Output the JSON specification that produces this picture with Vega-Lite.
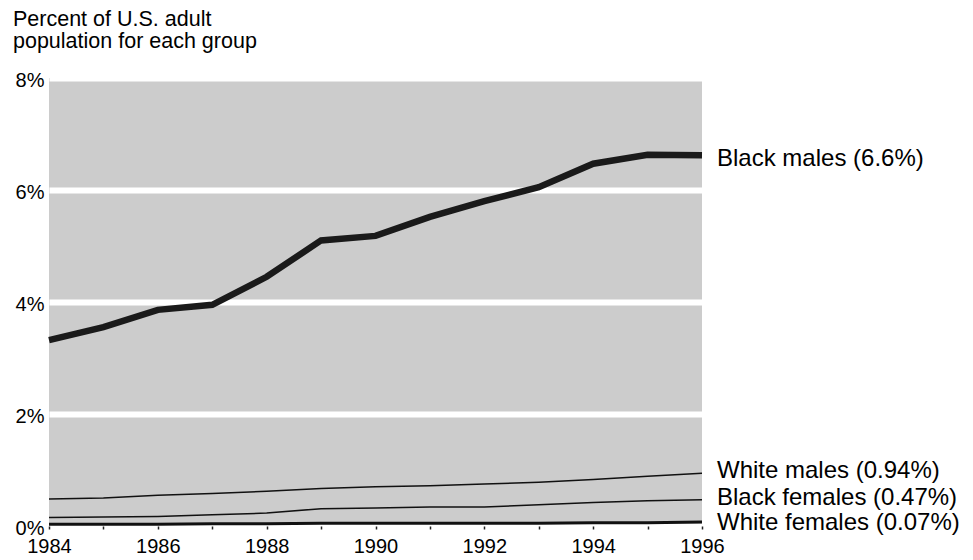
{
  "$schema": "https://vega.github.io/schema/vega-lite/v6.json",
  "autosize": "none",
  "width": 653,
  "height": 448,
  "padding": {"left": 49, "top": 78, "right": 271, "bottom": 34},
  "background": "white",
  "title": {
    "text": ["Percent of U.S. adult", "\u00a0population for each group"],
    "anchor": "start",
    "frame": "group",
    "font": "Liberation Sans",
    "fontSize": 21.5,
    "fontWeight": "normal",
    "color": "black",
    "lineHeight": 22,
    "dx": -36,
    "offset": 18
  },
  "config": {
    "view": {"fill": "#cccccc", "stroke": null},
    "font": "Liberation Sans"
  },
  "data": {
    "values": [
      {"year": 1984, "group": "Black males", "pct": 3.32},
      {"year": 1985, "group": "Black males", "pct": 3.55},
      {"year": 1986, "group": "Black males", "pct": 3.86},
      {"year": 1987, "group": "Black males", "pct": 3.95},
      {"year": 1988, "group": "Black males", "pct": 4.45},
      {"year": 1989, "group": "Black males", "pct": 5.1},
      {"year": 1990, "group": "Black males", "pct": 5.18},
      {"year": 1991, "group": "Black males", "pct": 5.52},
      {"year": 1992, "group": "Black males", "pct": 5.8},
      {"year": 1993, "group": "Black males", "pct": 6.05},
      {"year": 1994, "group": "Black males", "pct": 6.47},
      {"year": 1995, "group": "Black males", "pct": 6.63},
      {"year": 1996, "group": "Black males", "pct": 6.62},
      {"year": 1984, "group": "White males", "pct": 0.48},
      {"year": 1985, "group": "White males", "pct": 0.5},
      {"year": 1986, "group": "White males", "pct": 0.55},
      {"year": 1987, "group": "White males", "pct": 0.58},
      {"year": 1988, "group": "White males", "pct": 0.62},
      {"year": 1989, "group": "White males", "pct": 0.67},
      {"year": 1990, "group": "White males", "pct": 0.7},
      {"year": 1991, "group": "White males", "pct": 0.72},
      {"year": 1992, "group": "White males", "pct": 0.75},
      {"year": 1993, "group": "White males", "pct": 0.78},
      {"year": 1994, "group": "White males", "pct": 0.83},
      {"year": 1995, "group": "White males", "pct": 0.89},
      {"year": 1996, "group": "White males", "pct": 0.94},
      {"year": 1984, "group": "Black females", "pct": 0.15},
      {"year": 1985, "group": "Black females", "pct": 0.16},
      {"year": 1986, "group": "Black females", "pct": 0.17},
      {"year": 1987, "group": "Black females", "pct": 0.2},
      {"year": 1988, "group": "Black females", "pct": 0.23},
      {"year": 1989, "group": "Black females", "pct": 0.31},
      {"year": 1990, "group": "Black females", "pct": 0.32},
      {"year": 1991, "group": "Black females", "pct": 0.34},
      {"year": 1992, "group": "Black females", "pct": 0.34},
      {"year": 1993, "group": "Black females", "pct": 0.38},
      {"year": 1994, "group": "Black females", "pct": 0.42},
      {"year": 1995, "group": "Black females", "pct": 0.45},
      {"year": 1996, "group": "Black females", "pct": 0.47},
      {"year": 1984, "group": "White females", "pct": 0.03},
      {"year": 1985, "group": "White females", "pct": 0.03},
      {"year": 1986, "group": "White females", "pct": 0.03},
      {"year": 1987, "group": "White females", "pct": 0.04},
      {"year": 1988, "group": "White females", "pct": 0.04},
      {"year": 1989, "group": "White females", "pct": 0.05},
      {"year": 1990, "group": "White females", "pct": 0.05},
      {"year": 1991, "group": "White females", "pct": 0.05},
      {"year": 1992, "group": "White females", "pct": 0.05},
      {"year": 1993, "group": "White females", "pct": 0.05},
      {"year": 1994, "group": "White females", "pct": 0.06},
      {"year": 1995, "group": "White females", "pct": 0.06},
      {"year": 1996, "group": "White females", "pct": 0.07}
    ]
  },
  "encoding": {
    "x": {
      "field": "year",
      "type": "quantitative",
      "scale": {"domain": [1984, 1996], "nice": false, "zero": false},
      "axis": {
        "title": null,
        "values": [1984, 1985, 1986, 1987, 1988, 1989, 1990, 1991, 1992, 1993, 1994, 1995, 1996],
        "labelExpr": "datum.value % 2 == 0 ? datum.value : ''",
        "grid": false,
        "domain": false,
        "ticks": true,
        "tickSize": 3,
        "tickColor": "#222222",
        "tickWidth": 1.5,
        "labelFont": "Liberation Sans",
        "labelFontSize": 20,
        "labelColor": "black",
        "labelPadding": 7,
        "labelOverlap": false,
        "labelFlush": false
      }
    },
    "y": {
      "field": "pct",
      "type": "quantitative",
      "scale": {"domain": [0, 8], "nice": false},
      "axis": {
        "title": null,
        "values": [0, 2, 4, 6, 8],
        "labelExpr": "datum.value + '%'",
        "grid": true,
        "gridColor": "white",
        "gridWidth": 6,
        "gridOpacity": 1,
        "domain": false,
        "ticks": false,
        "labelFont": "Liberation Sans",
        "labelFontSize": 20,
        "labelColor": "black",
        "labelPadding": 5,
        "labelBaseline": "middle",
        "labelOffset": 2
      }
    }
  },
  "layer": [
    {
      "mark": {"type": "line", "color": "#111111", "strokeWidth": 1.5},
      "transform": [{"filter": "datum.group == 'White males' || datum.group == 'Black females'"}],
      "encoding": {"detail": {"field": "group"}}
    },
    {
      "mark": {"type": "line", "color": "#111111", "strokeWidth": 3},
      "transform": [{"filter": "datum.group == 'White females'"}],
      "encoding": {}
    },
    {
      "mark": {"type": "line", "color": "#1a1a1a", "strokeWidth": 6.5},
      "transform": [{"filter": "datum.group == 'Black males'"}],
      "encoding": {}
    },
    {
      "mark": {"type": "text", "align": "left", "baseline": "middle", "dx": 15, "dy": 4, "fontSize": 24, "font": "Liberation Sans", "color": "black"},
      "transform": [{"filter": "datum.year == 1996 && datum.group == 'Black males'"}],
      "encoding": {"text": {"value": "Black males (6.6%)"}}
    },
    {
      "mark": {"type": "text", "align": "left", "baseline": "middle", "dx": 15, "dy": -2, "fontSize": 24, "font": "Liberation Sans", "color": "black"},
      "transform": [{"filter": "datum.year == 1996 && datum.group == 'White males'"}],
      "encoding": {"text": {"value": "White males (0.94%)"}}
    },
    {
      "mark": {"type": "text", "align": "left", "baseline": "middle", "dx": 15, "dy": -2, "fontSize": 24, "font": "Liberation Sans", "color": "black"},
      "transform": [{"filter": "datum.year == 1996 && datum.group == 'Black females'"}],
      "encoding": {"text": {"value": "Black females (0.47%)"}}
    },
    {
      "mark": {"type": "text", "align": "left", "baseline": "middle", "dx": 15, "dy": 1, "fontSize": 24, "font": "Liberation Sans", "color": "black"},
      "transform": [{"filter": "datum.year == 1996 && datum.group == 'White females'"}],
      "encoding": {"text": {"value": "White females (0.07%)"}}
    }
  ]
}
